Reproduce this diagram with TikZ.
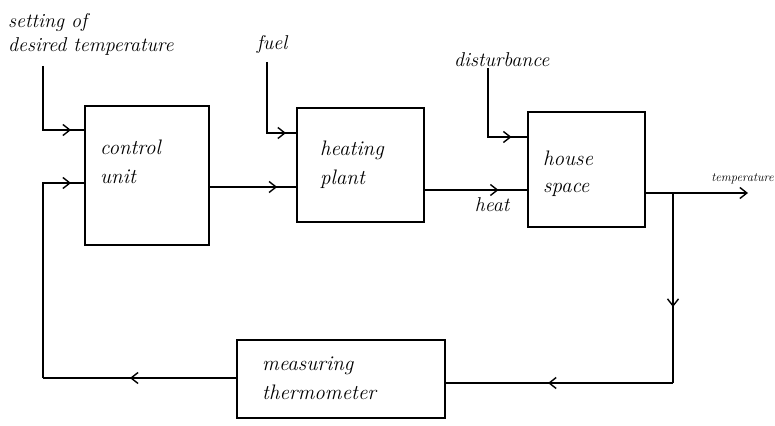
\documentclass[tikz,border=0pt]{standalone}
\usetikzlibrary{arrows.meta,decorations.markings}
\begin{document}
\begin{tikzpicture}[x=1pt,y=-1pt,
  box/.style={draw,line width=1.6pt,inner sep=0pt},
  wire/.style={line width=1.4pt},
  txt/.style={font=\fontsize{20}{24}\selectfont\itshape,inner sep=0pt,align=left},
  btxt/.style={font=\fontsize{21}{25}\selectfont\itshape,inner sep=0pt,align=left},
  tip/.style={-{Straight Barb[length=7pt,width=11pt,line width=1.4pt]}},
  midarr/.style={postaction={decorate,decoration={markings,mark=at position #1 with {\arrow{Straight Barb[length=7pt,width=11pt,line width=1.4pt]}}}}}
]
\fill[white] (0,0) rectangle (775,425);
\useasboundingbox (0,0) rectangle (775,425);

% boxes
\node[box,minimum width=124pt,minimum height=139pt] (cu) at (147,175.5) {};
\node[box,minimum width=127pt,minimum height=114pt] (hp) at (360.5,165) {};
\node[box,minimum width=117pt,minimum height=115pt] (hs) at (586.5,169.5) {};
\node[box,minimum width=208pt,minimum height=78pt] (mt) at (341,379) {};

% box texts
\node[btxt,anchor=west] (cut) at (100,162) {control\\[4pt]unit};
\node[btxt,anchor=west] (hpt) at (320,165) {heating\\[4pt]plant};
\node[btxt,anchor=west] (hst) at (543,174) {house\\[2pt]space};
\node[btxt,anchor=west] (mtt) at (262,378) {measuring\\[4pt]thermometer};

% outer labels
\node[txt,anchor=west] (set) at (8,34) {setting of\\desired temperature};
\node[txt] (fuel) at (272,45) {fuel};
\node[txt,anchor=west] (dist) at (454,60) {disturbance};
\node[txt] (heat) at (492,205) {heat};
\node[txt,anchor=east,font=\fontsize{12.5}{14}\selectfont\itshape] (temp) at (774,179) {temperature};

% coordinates
\coordinate (s0) at (43,66);
\coordinate (s1) at (43,130);
\coordinate (f0) at (267,62);
\coordinate (f1) at (267,133);
\coordinate (d0) at (488,68);
\coordinate (d1) at (488,137);
\coordinate (o1) at (748,193);
\coordinate (c1) at (673,193);
\coordinate (c2) at (673,383);
\coordinate (b1) at (43,378);
\coordinate (b2) at (43,183);

% connectors
\draw[wire] (s0) -- (s1) -- (s1 -| cu.west);
\draw[wire,midarr=0.68] (s1) -- (s1 -| cu.west);
\draw[wire] (f0) -- (f1) -- (f1 -| hp.west);
\draw[wire,midarr=0.65] (f1) -- (f1 -| hp.west);
\draw[wire] (d0) -- (d1) -- (d1 -| hs.west);
\draw[wire,midarr=0.6] (d1) -- (d1 -| hs.west);
\draw[wire,midarr=0.78] (cu.east |- 0,187) -- (hp.west |- 0,187);
\draw[wire,midarr=0.72] (hp.east |- 0,190) -- (hs.west |- 0,190);
\draw[wire,tip] (hs.east |- o1) -- (o1);
\draw[wire,midarr=0.6] (c1) -- (c2);
\draw[wire,midarr=0.55] (c2) -- (mt.east |- c2);
\draw[wire,midarr=0.55] (mt.west |- b1) -- (b1);
\draw[wire] (b1) -- (b2) -- (b2 -| cu.west);
\draw[wire,midarr=0.68] (b2) -- (b2 -| cu.west);
\end{tikzpicture}
\end{document}
